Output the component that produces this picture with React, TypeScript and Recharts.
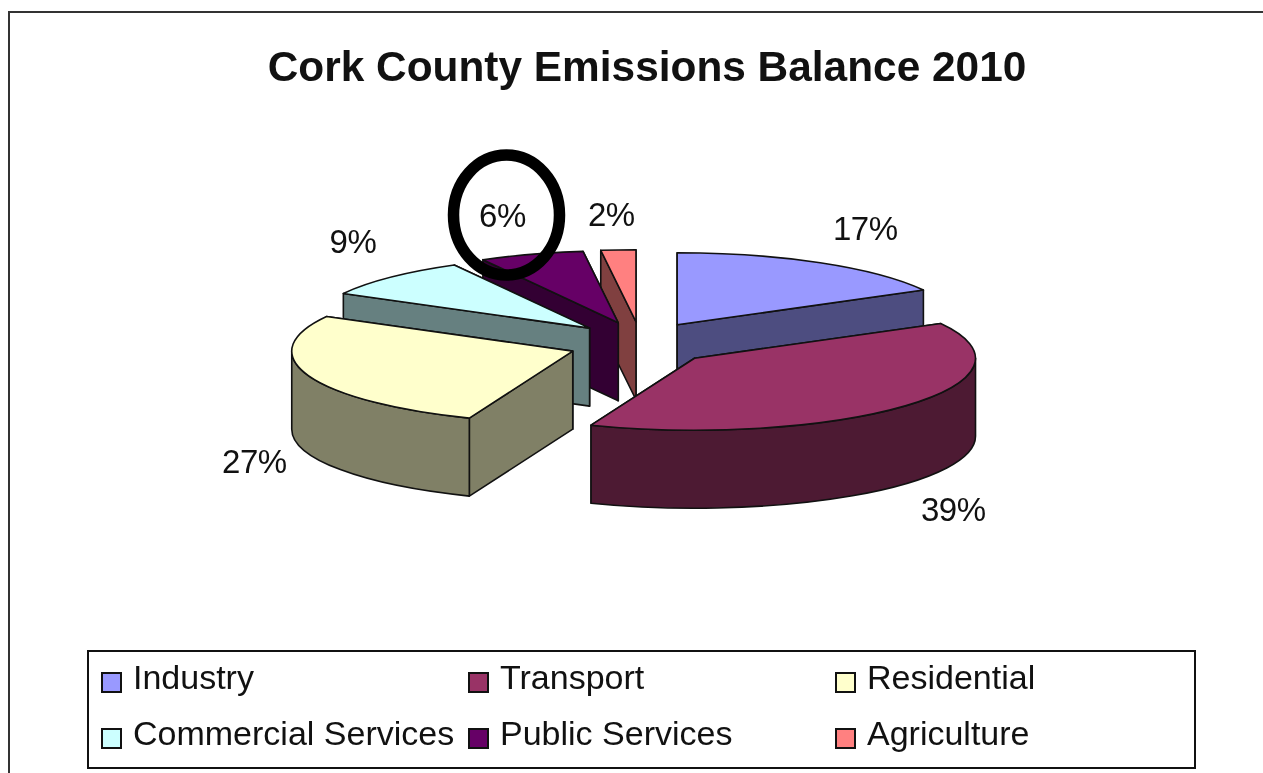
import { PieChart, Pie, Legend } from "recharts";

const categories = ["Industry", "Transport", "Residential", "Commercial Services", "Public Services", "Agriculture"];
const shares = [17, 39, 27, 9, 6, 2];
const topColors = ["#9999FF", "#993366", "#FFFFCC", "#CCFFFF", "#660066", "#FF8080"];
const wallColors = ["#4D4D80", "#4D1A33", "#808066", "#668080", "#330033", "#804040"];
// painted back to front, so the front slices cover the walls behind them
const drawOrder = [0, 5, 4, 3, 2, 1];
const labelShift = [[45, -34], [48, 104], [-54, 86], [-38, -36], [-29, -39], [-7, -35]];
const legendX = [12, 379, 746];
const legendY = [25, 81];

const tableData = drawOrder.map((i) => ({ name: categories[i], value: shares[i], slot: i }));

const RX = 281;
const RY = 72;
const DEPTH = 78;
const EXPLODE_X = 72;
const EXPLODE_Y = 22;
const START = 90 - (shares[0] / 100) * 360;

const rad = (deg: number) => (deg * Math.PI) / 180;

const apexOf = (cx: number, cy: number, mid: number) => ({
  x: cx + EXPLODE_X * Math.cos(rad(mid)),
  y: cy - EXPLODE_Y * Math.sin(rad(mid)),
});

const rimOf = (apex: { x: number; y: number }, angle: number, drop = 0) => ({
  x: apex.x + RX * Math.cos(rad(angle)),
  y: apex.y - RY * Math.sin(rad(angle)) + drop,
});

const Slice3D = (props: any) => {
  const { cx, cy, startAngle, endAngle, payload } = props;
  const slot = payload.slot;
  const s = Math.min(startAngle, endAngle);
  const e = Math.max(startAngle, endAngle);
  const apex = apexOf(cx, cy, (s + e) / 2);
  const a = rimOf(apex, s);
  const b = rimOf(apex, e);
  const large = e - s > 180 ? 1 : 0;
  const face = (p: { x: number; y: number }) =>
    `M${apex.x},${apex.y} L${p.x},${p.y} L${p.x},${p.y + DEPTH} L${apex.x},${apex.y + DEPTH} Z`;

  // only the part of the rim between 180 and 360 degrees faces the viewer
  const w0 = Math.max(s, 180);
  const w1 = Math.min(e, 360);
  let wall = "";
  if (w1 > w0) {
    const p = rimOf(apex, w0);
    const q = rimOf(apex, w1);
    wall = `M${p.x},${p.y} A${RX},${RY} 0 0 0 ${q.x},${q.y} L${q.x},${q.y + DEPTH} A${RX},${RY} 0 0 1 ${p.x},${p.y + DEPTH} Z`;
  }
  const common = { stroke: "#111", strokeWidth: 1.6, strokeLinejoin: "round" as const };
  return (
    <g>
      <path d={face(a)} fill={wallColors[slot]} {...common} />
      <path d={face(b)} fill={wallColors[slot]} {...common} />
      {wall && <path d={wall} fill={wallColors[slot]} {...common} />}
      <path
        d={`M${apex.x},${apex.y} L${a.x},${a.y} A${RX},${RY} 0 ${large} 0 ${b.x},${b.y} Z`}
        fill={topColors[slot]}
        {...common}
      />
    </g>
  );
};

const sliceLabel = (props: any) => {
  const { cx, cy, midAngle, payload, value } = props;
  const slot = payload?.slot ?? props.slot;
  const apex = apexOf(cx, cy, midAngle);
  const rim = rimOf(apex, midAngle);
  const [dx, dy] = labelShift[slot];
  return (
    <text
      key={slot}
      x={rim.x + dx}
      y={rim.y + dy}
      textAnchor="middle"
      dominantBaseline="central"
      fontSize={33}
      letterSpacing={-0.5}
      fill="#111"
      fontFamily="Liberation Sans"
    >
      {value}%
    </text>
  );
};

const LegendBox = () => (
  <div style={{ position: "relative", width: 1105, height: 115, border: "2px solid #111", fontFamily: "Liberation Sans", fontSize: 34, color: "#111", background: "#fff" }}>
    {categories.map((name, i) => {
      const col = i % 3;
      const row = Math.floor(i / 3);
      return (
        <div key={name} style={{ position: "absolute", left: legendX[col], top: legendY[row] - 20, height: 40, lineHeight: "40px", whiteSpace: "nowrap" }}>
          <span style={{ display: "inline-block", boxSizing: "border-box", width: 21, height: 21, marginRight: 11, background: topColors[i], border: "2px solid #111", verticalAlign: "-4px" }} />
          {name}
        </div>
      );
    })}
  </div>
);

export default function App() {
  return (
    <div style={{ position: "absolute", left: 0, top: 0, width: 1263, height: 773, overflow: "hidden", background: "#fff", filter: "blur(0.5px)" }}>
      <div style={{ position: "absolute", left: 8, top: 11, width: 1300, height: 800, border: "2px solid #333" }} />
      <div style={{ position: "absolute", left: 0, top: 0 }}>
        <PieChart width={1263} height={773} margin={{ top: 0, right: 0, bottom: 0, left: 0 }}>
          <text x={647} y={81} textAnchor="middle" fontSize={42.4} fontWeight="bold" fill="#111" fontFamily="Liberation Sans">
            Cork County Emissions Balance 2010
          </text>
          <Pie
            data={tableData}
            dataKey="value"
            nameKey="name"
            cx={640.5}
            cy={343.7}
            outerRadius={RX}
            startAngle={START}
            endAngle={START + 360}
            stroke="none"
            label={sliceLabel}
            labelLine={false}
            shape={Slice3D}
            isAnimationActive={false}
          />
          <Legend
            content={LegendBox}
            layout="horizontal"
            wrapperStyle={{ position: "absolute", left: 87, top: 650, width: 1109, bottom: "auto" }}
          />
        </PieChart>
      </div>
      {/* hand-drawn ring around the 6% label, sits above the pie */}
      <svg width={1263} height={773} style={{ position: "absolute", left: 0, top: 0, pointerEvents: "none" }}>
        <ellipse cx={506.5} cy={215} rx={53} ry={60} fill="none" stroke="#000" strokeWidth={11.5} />
      </svg>
    </div>
  );
}
